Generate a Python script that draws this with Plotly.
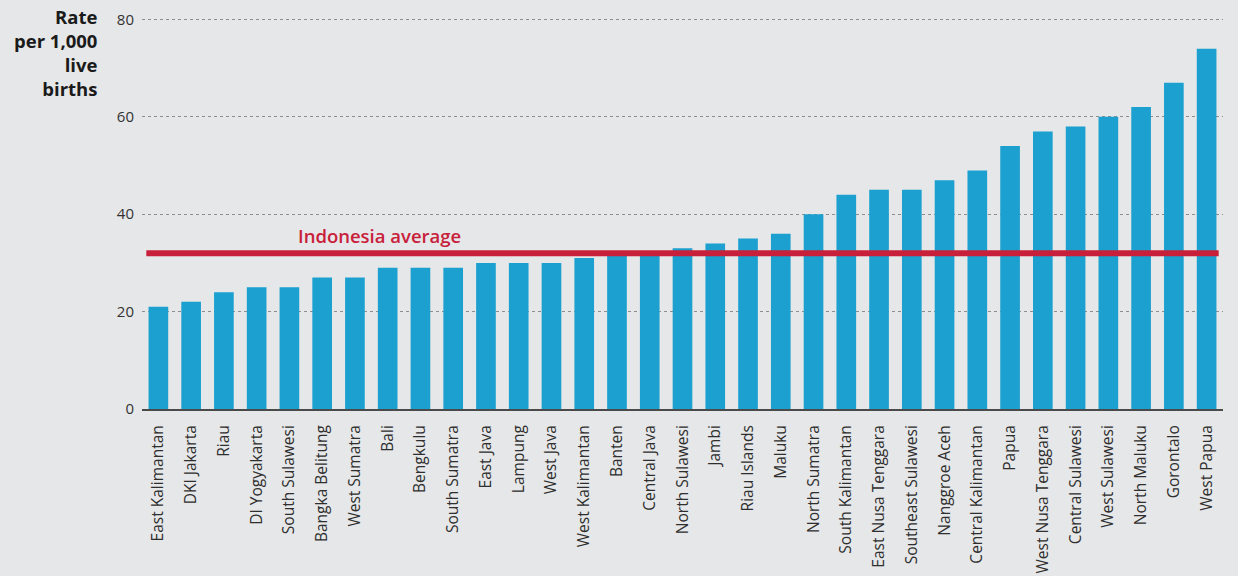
import plotly.graph_objects as go

provinces = [
    "East Kalimantan", "DKI Jakarta", "Riau", "DI Yogyakarta", "South Sulawesi",
    "Bangka Belitung", "West Sumatra", "Bali", "Bengkulu", "South Sumatra",
    "East Java", "Lampung", "West Java", "West Kalimantan", "Banten",
    "Central Java", "North Sulawesi", "Jambi", "Riau Islands", "Maluku",
    "North Sumatra", "South Kalimantan", "East Nusa Tenggara", "Southeast Sulawesi",
    "Nanggroe Aceh", "Central Kalimantan", "Papua", "West Nusa Tenggara",
    "Central Sulawesi", "West Sulawesi", "North Maluku", "Gorontalo", "West Papua",
]
rates = [
    21, 22, 24, 25, 25,
    27, 27, 29, 29, 29,
    30, 30, 30, 31, 32,
    32, 33, 34, 35, 36,
    40, 44, 45, 45,
    47, 49, 54, 57,
    58, 60, 62, 67, 74,
]
national_average = 32
y_ticks = [0, 20, 40, 60, 80]

BG = "#e6e7e8"
BAR = "#1ba0d0"
RED = "#c8203a"
FONT = "Open Sans"

fig = go.Figure()
fig.add_trace(go.Bar(
    x=list(range(len(provinces))),
    y=rates,
    marker=dict(color=BAR, line=dict(width=0)),
    width=0.6,
    hoverinfo="skip",
))

# national average reference line
fig.add_shape(
    type="line", xref="paper", yref="y",
    x0=0.004, x1=0.996, y0=national_average, y1=national_average,
    line=dict(color=RED, width=6), layer="above",
)
fig.add_annotation(
    x=6.76, y=national_average, xref="x", yref="y",
    text="Indonesia average", showarrow=False,
    yanchor="bottom", yshift=3,
    font=dict(family=FONT, size=18.5, color=RED, weight=600),
)

# axis title, stacked to the left of the value scale
fig.add_annotation(
    x=-0.039, y=1.038, xref="paper", yref="paper",
    xanchor="right", yanchor="top", align="right",
    text="Rate<br>per 1,000<br>live<br>births", showarrow=False,
    font=dict(family=FONT, size=18.5, color="#1a1a1a", weight="bold"),
)

fig.update_layout(
    width=1238, height=576,
    margin=dict(l=142, r=15, t=17, b=167, autoexpand=False),
    paper_bgcolor=BG, plot_bgcolor=BG,
    showlegend=False,
    bargap=0.4,
    font=dict(family=FONT, color="#333333"),
    xaxis=dict(
        tickmode="array",
        tickvals=list(range(len(provinces))),
        ticktext=provinces,
        tickangle=-90,
        tickfont=dict(size=15.5, color="#2e2e2e"),
        range=[-0.5, len(provinces) - 0.5],
        showgrid=False,
        showline=True, linecolor="#4a4a4a", linewidth=2,
        ticks="", ticklabelstandoff=8,
        automargin=False,
        fixedrange=True,
    ),
    yaxis=dict(
        range=[0, 80.5],
        tickvals=y_ticks,
        tickfont=dict(size=15, color="#333333"),
        showgrid=True, gridcolor="#8e8e8e", griddash="dot", gridwidth=1,
        zeroline=False,
        ticks="", ticklabelstandoff=7,
        automargin=False,
        fixedrange=True,
    ),
)

fig.write_html("out.html")
